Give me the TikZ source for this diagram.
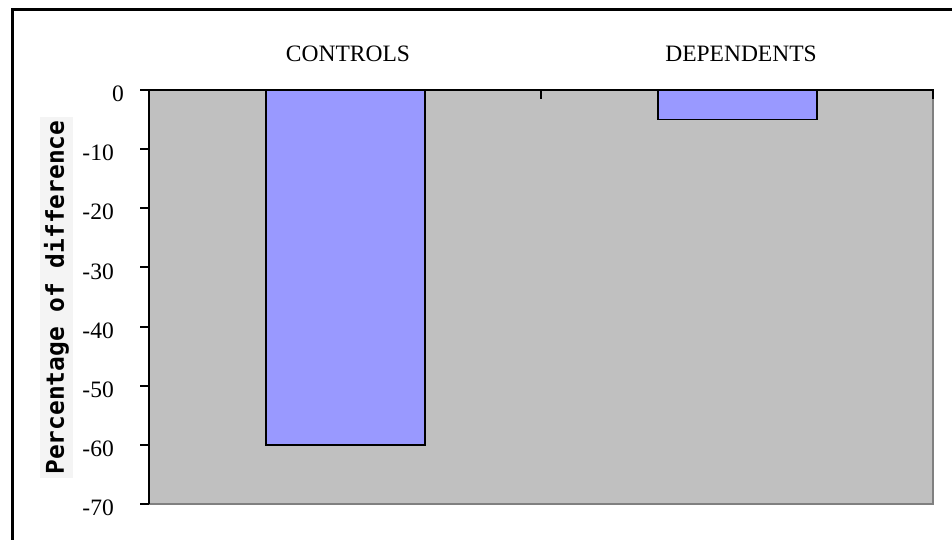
\documentclass[tikz,border=0pt]{standalone}
\usepackage{fontspec}
\setmainfont{Liberation Serif}
\newfontfamily\labelfont{DejaVu Sans Mono}
\usetikzlibrary{positioning}
\definecolor{plotgray}{HTML}{C0C0C0}
\definecolor{edgegray}{HTML}{808080}
\definecolor{barblue}{HTML}{9999FF}
\definecolor{labelbg}{HTML}{F4F4F4}

\begin{document}
\begin{tikzpicture}[x=1pt,y=1pt,
        ticklabel/.style={anchor=east, font=\fontsize{23.5}{28}\selectfont, inner sep=0pt},
        catlabel/.style={font=\fontsize{23.5}{28}\selectfont, inner sep=0pt},
        bar/.style={draw=black, line width=1.8pt, fill=barblue},
        axis/.style={line width=2pt}]
        \useasboundingbox (0,0) rectangle (952,539);
        % Frame
        \draw[line width=3pt] (12.5,-5) -- (12.5,529.5) -- (960,529.5);

        % Plot area
        \fill[plotgray] (149,35) rectangle (933,449);
        \draw[edgegray, line width=2pt] (149,35) -- (933,35) -- (933,449);

        \begin{scope}[shift={(149,449)}, y=5.914pt]
            % Bars
            \draw[bar] (117,0) rectangle (276,-60);
            \draw[bar] (509,0) rectangle (668,-5);

            % Axes
            \draw[axis] (0,-70) -- (0,0) -- (785,0);
            \foreach \v in {0,-10,...,-70}
                \draw[axis] (-9,\v) -- (0,\v);
            \foreach \c in {392,784}
                \draw[axis] (\c,0) -- (\c,-1.55);

            % Tick labels
            \node[ticklabel, yshift=-4pt] (tick0) at (-25,0) {0};
            \foreach \v [count=\i] in {-10,-20,...,-70}
                \node[ticklabel, yshift=-4pt] (tick\i) at (-35,\v) {\v};
        \end{scope}

        % Category labels
        \node[catlabel] (controls)   at (348,485.5) {CONTROLS};
        \node[catlabel] (dependents) at (741,485.5) {DEPENDENTS};

        % Axis title
        \node[rotate=90, fill=labelbg, inner sep=0pt, minimum width=361pt, minimum height=33pt,
              font=\labelfont\bfseries\fontsize{24.5}{28}\selectfont] (ytitle) at (56.5,241.5)
              {Percentage of difference};
\end{tikzpicture}
\end{document}
